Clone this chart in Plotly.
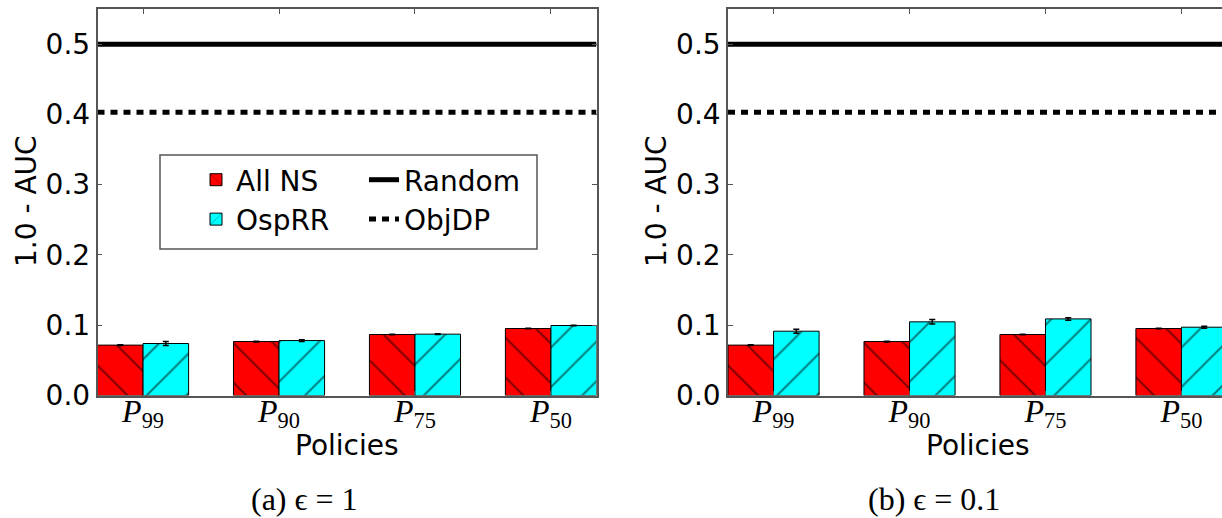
import plotly.graph_objects as go

W, H = 1222, 518

# ---- data ----
policies = ["<i>P</i><sub>99</sub>", "<i>P</i><sub>90</sub>", "<i>P</i><sub>75</sub>", "<i>P</i><sub>50</sub>"]
pos = [0, 1, 2, 3]

allns_a = [0.0717, 0.0768, 0.0868, 0.0953]
allns_a_err = [0.0005, 0.0005, 0.0004, 0.0004]
osprr_a = [0.0740, 0.0782, 0.0873, 0.0996]
osprr_a_err = [0.0028, 0.0012, 0.0005, 0.0005]

allns_b = [0.0717, 0.0768, 0.0868, 0.0953]
allns_b_err = [0.0005, 0.0005, 0.0004, 0.0004]
osprr_b = [0.0915, 0.1048, 0.1090, 0.0972]
osprr_b_err = [0.0028, 0.0032, 0.0018, 0.0014]

random_auc = [0.5]
objdp_auc = [0.403]

x_title = "Policies"
y_title = "1.0 - AUC"
captions = ["(a) ϵ = 1", "(b) ϵ = 0.1"]

# ---- layout geometry (pixels) ----
bw = 0.335
xr_left = [-bw, 3 + bw]
px_per_unit = (596.5 - 97.5) / (xr_left[1] - xr_left[0])
xr_right = [-bw, -bw + (W - 728) / px_per_unit]

def px(x):
    return x / W

def py(y):
    return 1 - y / H

SANS = "DejaVu Sans"
SERIF = "Liberation Serif"
SPINE = "#555555"

fig = go.Figure()

def add_panel(xa, ya, ns, ns_err, osp, osp_err, show):
    fig.add_trace(go.Bar(
        x=pos, y=ns, width=bw, offset=-bw, name="All NS",
        marker=dict(color="red", line=dict(color="black", width=1),
                    pattern=dict(shape="\\", fgcolor="black", bgcolor="red",
                                 size=28, solidity=0.07, fillmode="overlay")),
        error_y=dict(type="data", array=ns_err, color="black", thickness=1.5, width=3),
        xaxis=xa, yaxis=ya, showlegend=show, legend="legend"))
    fig.add_trace(go.Bar(
        x=pos, y=osp, width=bw, offset=0, name="OspRR",
        marker=dict(color="cyan", line=dict(color="black", width=1),
                    pattern=dict(shape="/", fgcolor="black", bgcolor="cyan",
                                 size=28, solidity=0.07, fillmode="overlay")),
        error_y=dict(type="data", array=osp_err, color="black", thickness=1.5, width=3),
        xaxis=xa, yaxis=ya, showlegend=show, legend="legend"))
    fig.add_trace(go.Scatter(
        x=xr_left, y=random_auc * 2, mode="lines", name="Random",
        line=dict(color="black", width=5),
        xaxis=xa, yaxis=ya, showlegend=show, legend="legend2"))
    fig.add_trace(go.Scatter(
        x=xr_left, y=objdp_auc * 2, mode="lines", name="ObjDP",
        line=dict(color="black", width=5, dash="7px,6px"),
        xaxis=xa, yaxis=ya, showlegend=show, legend="legend2"))

add_panel("x", "y", allns_a, allns_a_err, osprr_a, osprr_a_err, True)
add_panel("x2", "y2", allns_b, allns_b_err, osprr_b, osprr_b_err, False)

ydom = [py(395.5), py(9)]
common_x = dict(
    tickvals=pos, ticktext=policies, ticks="inside", ticklen=5, tickcolor=SPINE,
    showgrid=False, zeroline=False, showline=True, linecolor=SPINE, linewidth=1.5,
    mirror="allticks", automargin=False, ticklabelstandoff=-14,
    tickfont=dict(family=SERIF, size=32, color="black"),
)
common_y = dict(
    range=[0, 0.55], tickvals=[0, 0.1, 0.2, 0.3, 0.4, 0.5],
    ticktext=["0.0", "0.1", "0.2", "0.3", "0.4", "0.5"],
    ticks="inside", ticklen=5, tickcolor=SPINE, showgrid=False, zeroline=False,
    showline=True, linecolor=SPINE, linewidth=1.5, automargin=False,
    tickfont=dict(family=SANS, size=28, color="black"),
    domain=ydom,
)

def ann(text, x, y, font, angle=0):
    return dict(text=text, x=px(x), y=py(y), xref="paper", yref="paper",
                showarrow=False, xanchor="center", yanchor="middle",
                textangle=angle, font=font)

sans_font = dict(family=SANS, size=28, color="black")
serif_font = dict(family=SERIF, size=32, color="black")

fig.update_layout(
    template="none",
    width=W, height=H, margin=dict(l=0, r=0, t=0, b=0, autoexpand=False),
    paper_bgcolor="white", plot_bgcolor="white", barmode="overlay",
    xaxis=dict(domain=[px(97.5), px(596.5)], range=xr_left, anchor="y", **common_x),
    yaxis=dict(anchor="x", mirror="allticks", **common_y),
    xaxis2=dict(domain=[px(728), 1], range=xr_right, anchor="y2", **common_x),
    yaxis2=dict(anchor="x2", mirror=False, **common_y),
    legend=dict(x=px(196), y=py(155), xanchor="left", yanchor="top",
                bgcolor="rgba(0,0,0,0)", borderwidth=0, font=sans_font,
                tracegroupgap=0, itemwidth=30),
    legend2=dict(x=px(364), y=py(155), xanchor="left", yanchor="top",
                 bgcolor="rgba(0,0,0,0)", borderwidth=0, font=sans_font,
                 tracegroupgap=0, itemwidth=30),
    shapes=[dict(type="rect", xref="paper", yref="paper",
                 x0=px(160), x1=px(537), y0=py(249), y1=py(155),
                 line=dict(color=SPINE, width=1.5), fillcolor="white", layer="above")],
    annotations=[
        ann(x_title, 347, 445, sans_font),
        ann(x_title, 978, 445, sans_font),
        ann(y_title, 26, 201, sans_font, -90),
        ann(y_title, 656, 201, sans_font, -90),
        ann(captions[0], 304, 499, serif_font),
        ann(captions[1], 934, 499, serif_font),
    ],
)

post = (
    "var gd = document.getElementById('{plot_id}');"
    "document.documentElement.style.margin='0';"
    "document.body.style.margin='0';"
    "document.documentElement.style.overflow='hidden';"
    "document.body.style.overflow='hidden';"
    "gd.style.position='fixed';gd.style.left='0px';gd.style.top='0px';"
)

fig.write_html("out.html", config={"displayModeBar": False}, post_script=post)
